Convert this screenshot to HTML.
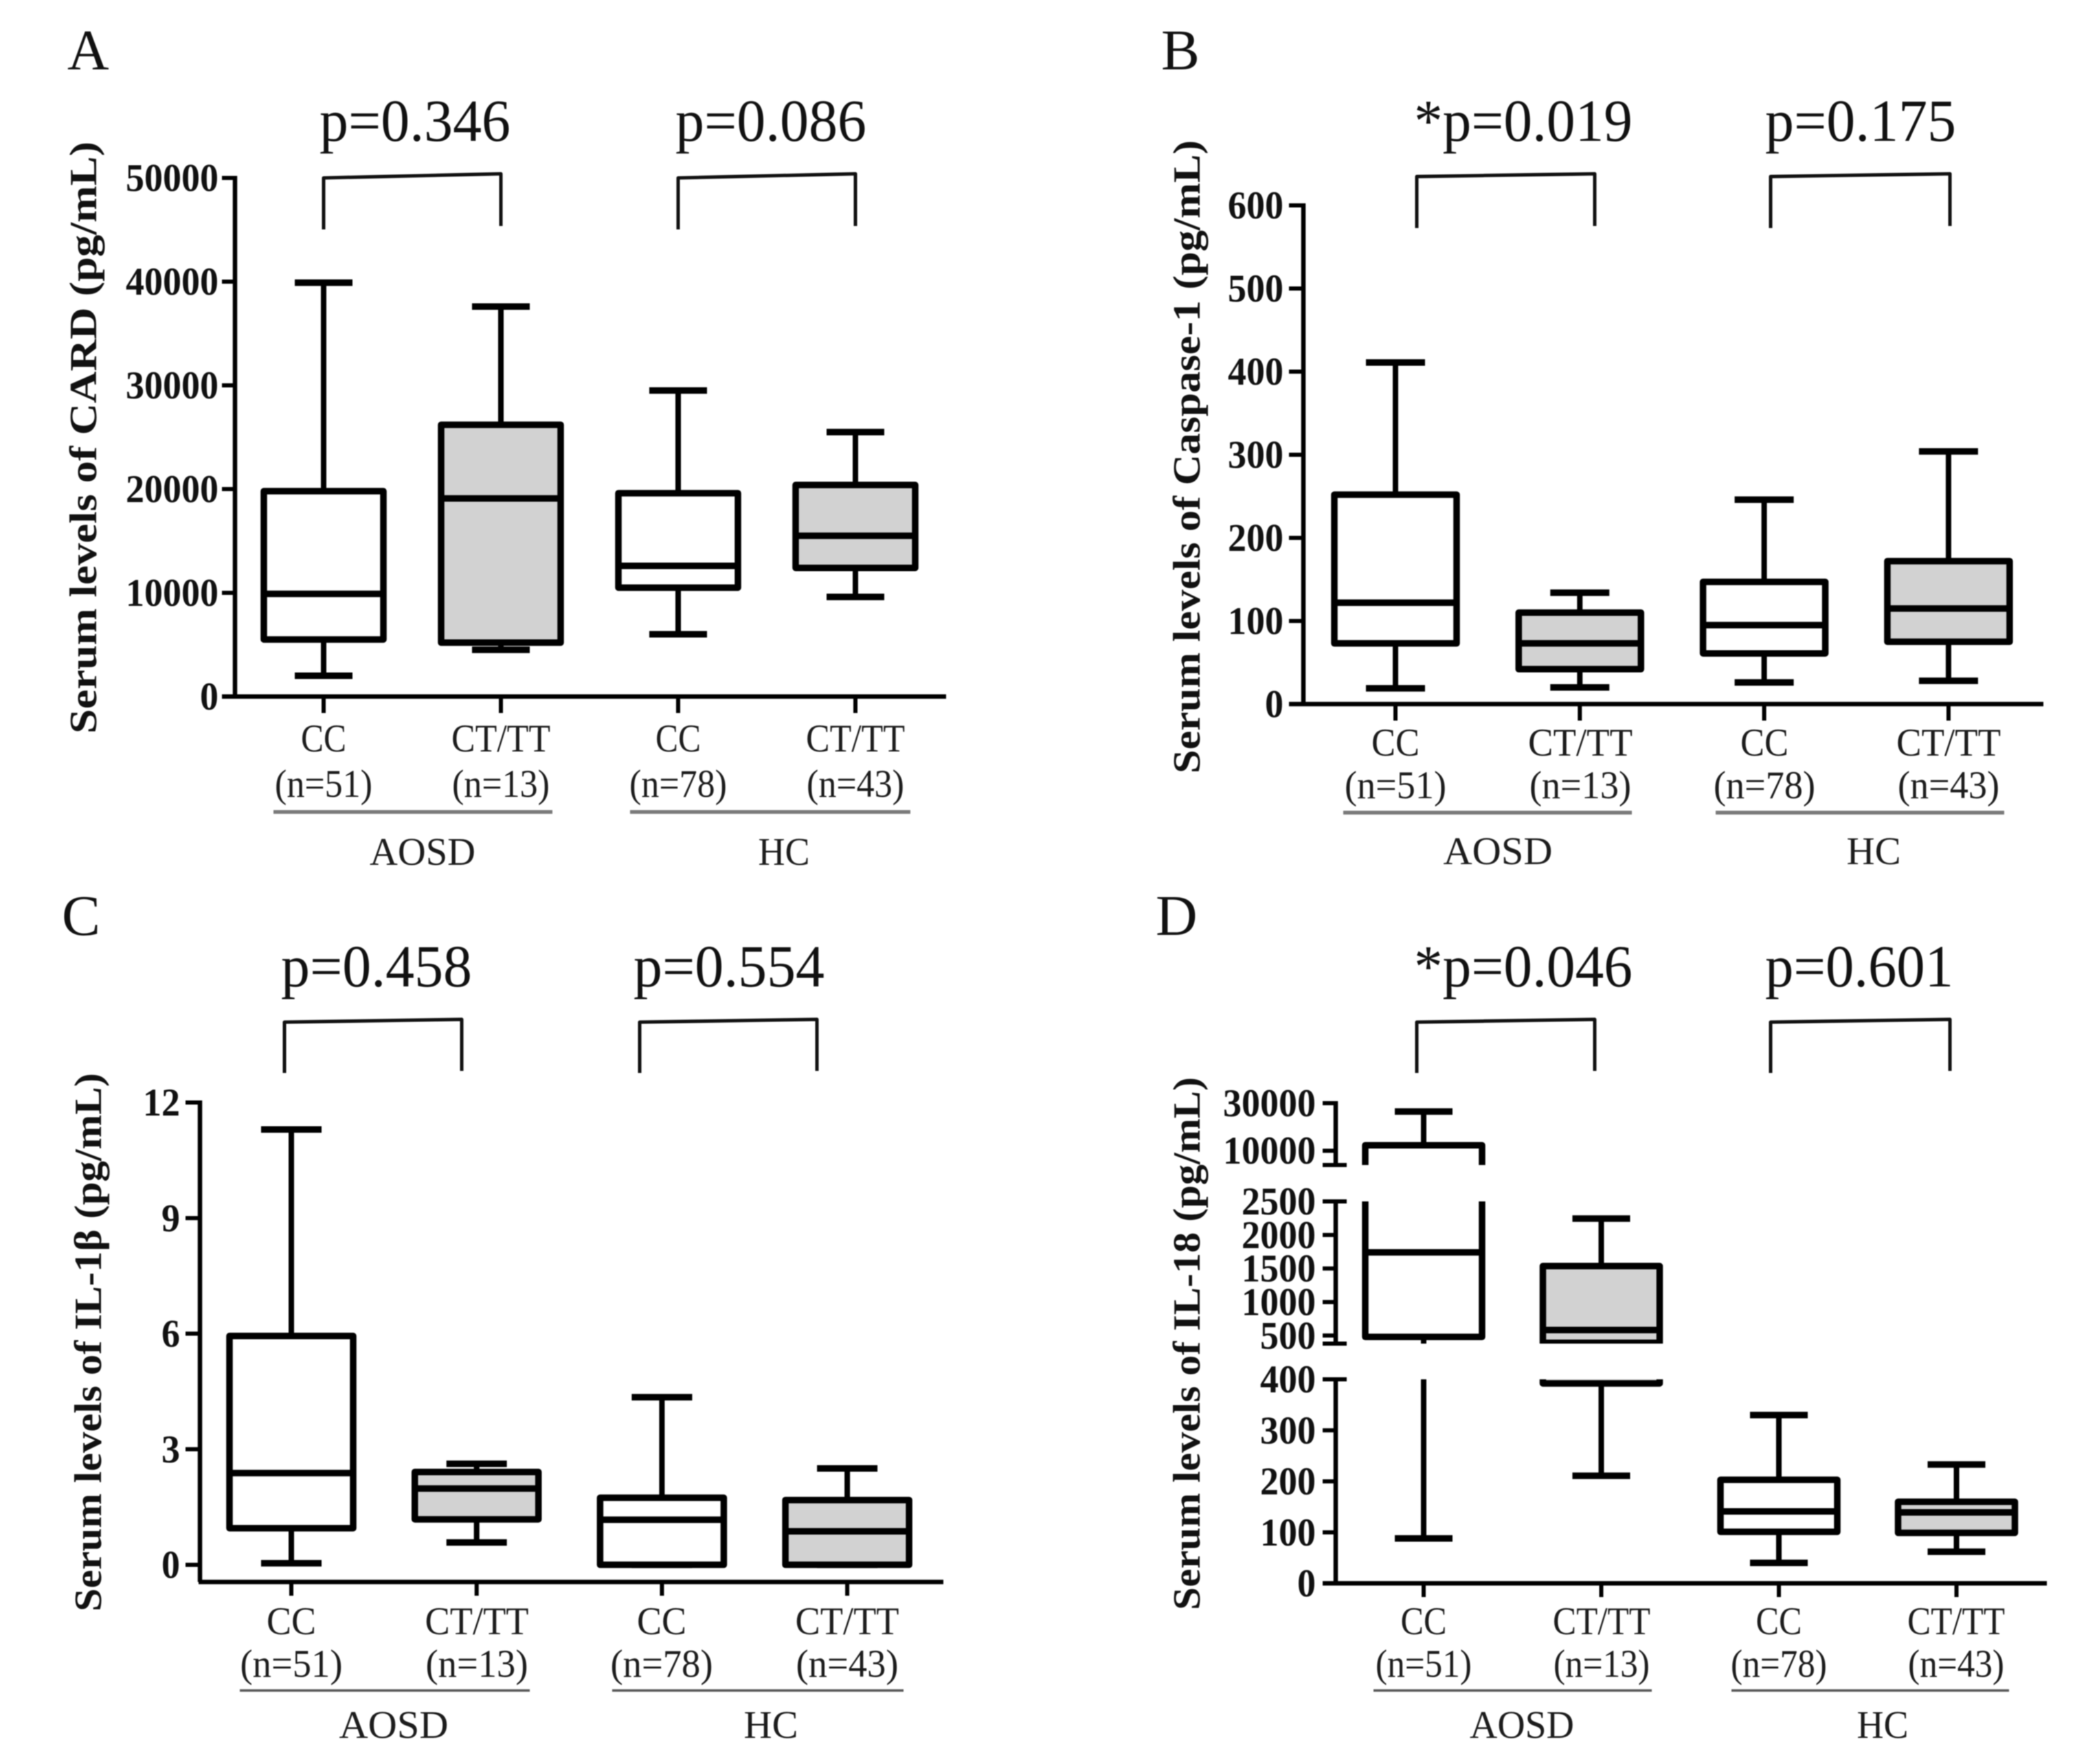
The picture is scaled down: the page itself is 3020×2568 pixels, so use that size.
<!DOCTYPE html>
<html lang="en">
<head>
<meta charset="utf-8">
<title>Serum levels of CARD, Caspase-1, IL-1β and IL-18 by genotype</title>
<style>
  html, body { margin: 0; padding: 0; background: #fff; }
  body { width: 3020px; height: 2568px; overflow: hidden; }
  svg { display: block; filter: blur(0.9px); }
  text { font-family: "Liberation Serif", serif; fill: #111; }
  .letter { font-size: 84px; }
  .pval { font-size: 87px; }
  .cat { font-size: 57px; text-anchor: middle; fill: #1c1c1c; }
  .group { font-size: 57px; text-anchor: middle; fill: #1c1c1c; }
  .ytitle { font-size: 56px; font-weight: bold; }
  .tick { font-size: 57px; font-weight: bold; text-anchor: end; }
  .bracket { fill: none; stroke: #111; stroke-width: 5; stroke-linejoin: round; }
  .underline { stroke: #7a7a7a; stroke-width: 5.5; }
</style>
</head>
<body>
<svg id="fig" xmlns="http://www.w3.org/2000/svg" width="3020" height="2568" viewBox="0 0 3020 2568">
  <rect width="3020" height="2568" fill="#fff"/>

  <!-- Panel A labels -->
  <g>
    <text class="letter" x="98" y="101">A</text>
    <text class="pval" x="465" y="205" textLength="278" lengthAdjust="spacingAndGlyphs">p=0.346</text>
    <text class="pval" x="983" y="205" textLength="278" lengthAdjust="spacingAndGlyphs">p=0.086</text>
    <path class="bracket" d="M471 334V259L729 253V329"/>
    <path class="bracket" d="M987 334V259L1245 253V329"/>
    <text class="ytitle" transform="translate(140,1068) rotate(-90)" textLength="862" lengthAdjust="spacingAndGlyphs">Serum levels of CARD (pg/mL)</text>
    <text class="cat" x="471" y="1094" textLength="66" lengthAdjust="spacingAndGlyphs">CC</text>
    <text class="cat" x="729" y="1094" textLength="144" lengthAdjust="spacingAndGlyphs">CT/TT</text>
    <text class="cat" x="987" y="1094" textLength="66" lengthAdjust="spacingAndGlyphs">CC</text>
    <text class="cat" x="1245" y="1094" textLength="144" lengthAdjust="spacingAndGlyphs">CT/TT</text>
    <text class="cat" x="471" y="1160" textLength="142" lengthAdjust="spacingAndGlyphs">(n=51)</text>
    <text class="cat" x="729" y="1160" textLength="142" lengthAdjust="spacingAndGlyphs">(n=13)</text>
    <text class="cat" x="987" y="1160" textLength="142" lengthAdjust="spacingAndGlyphs">(n=78)</text>
    <text class="cat" x="1245" y="1160" textLength="142" lengthAdjust="spacingAndGlyphs">(n=43)</text>
    <line class="underline" x1="398" x2="804" y1="1182" y2="1182"/>
    <line class="underline" x1="917" x2="1325" y1="1182" y2="1182"/>
    <text class="group" x="615" y="1259" textLength="154" lengthAdjust="spacingAndGlyphs">AOSD</text>
    <text class="group" x="1141" y="1259" textLength="75" lengthAdjust="spacingAndGlyphs">HC</text>
  </g>

  <!-- Panel B labels -->
  <g>
    <text class="letter" x="1690" y="101">B</text>
    <text class="pval" x="2058" y="205" textLength="318" lengthAdjust="spacingAndGlyphs">*p=0.019</text>
    <text class="pval" x="2569" y="205" textLength="278" lengthAdjust="spacingAndGlyphs">p=0.175</text>
    <path class="bracket" d="M2062 332V257L2321 253V329"/>
    <path class="bracket" d="M2577 332V257L2838 253V329"/>
    <text class="ytitle" transform="translate(1746,1126) rotate(-90)" textLength="922" lengthAdjust="spacingAndGlyphs">Serum levels of Caspase-1 (pg/mL)</text>
    <text class="cat" x="2031" y="1100" textLength="70" lengthAdjust="spacingAndGlyphs">CC</text>
    <text class="cat" x="2300" y="1100" textLength="152" lengthAdjust="spacingAndGlyphs">CT/TT</text>
    <text class="cat" x="2568" y="1100" textLength="70" lengthAdjust="spacingAndGlyphs">CC</text>
    <text class="cat" x="2836" y="1100" textLength="152" lengthAdjust="spacingAndGlyphs">CT/TT</text>
    <text class="cat" x="2031" y="1162" textLength="148" lengthAdjust="spacingAndGlyphs">(n=51)</text>
    <text class="cat" x="2300" y="1162" textLength="148" lengthAdjust="spacingAndGlyphs">(n=13)</text>
    <text class="cat" x="2568" y="1162" textLength="148" lengthAdjust="spacingAndGlyphs">(n=78)</text>
    <text class="cat" x="2836" y="1162" textLength="148" lengthAdjust="spacingAndGlyphs">(n=43)</text>
    <line class="underline" x1="1955" x2="2375" y1="1183" y2="1183"/>
    <line class="underline" x1="2497" x2="2917" y1="1183" y2="1183"/>
    <text class="group" x="2180" y="1258" textLength="159" lengthAdjust="spacingAndGlyphs">AOSD</text>
    <text class="group" x="2727" y="1258" textLength="79" lengthAdjust="spacingAndGlyphs">HC</text>
  </g>

  <!-- Panel C labels -->
  <g>
    <text class="letter" x="90" y="1361">C</text>
    <text class="pval" x="409" y="1436" textLength="278" lengthAdjust="spacingAndGlyphs">p=0.458</text>
    <text class="pval" x="922" y="1436" textLength="278" lengthAdjust="spacingAndGlyphs">p=0.554</text>
    <path class="bracket" d="M414 1562V1488L672 1484V1559"/>
    <path class="bracket" d="M931 1562V1488L1189 1484V1559"/>
    <text class="ytitle" transform="translate(147,2346) rotate(-90)" textLength="784" lengthAdjust="spacingAndGlyphs">Serum levels of IL-1β (pg/mL)</text>
    <text class="cat" x="424" y="2379" textLength="72" lengthAdjust="spacingAndGlyphs">CC</text>
    <text class="cat" x="694" y="2379" textLength="151" lengthAdjust="spacingAndGlyphs">CT/TT</text>
    <text class="cat" x="963" y="2379" textLength="72" lengthAdjust="spacingAndGlyphs">CC</text>
    <text class="cat" x="1233" y="2379" textLength="151" lengthAdjust="spacingAndGlyphs">CT/TT</text>
    <text class="cat" x="424" y="2441" textLength="149" lengthAdjust="spacingAndGlyphs">(n=51)</text>
    <text class="cat" x="694" y="2441" textLength="149" lengthAdjust="spacingAndGlyphs">(n=13)</text>
    <text class="cat" x="963" y="2441" textLength="149" lengthAdjust="spacingAndGlyphs">(n=78)</text>
    <text class="cat" x="1233" y="2441" textLength="149" lengthAdjust="spacingAndGlyphs">(n=43)</text>
    <line class="underline" style="stroke-width:3.5;stroke:#555" x1="349" x2="771" y1="2461" y2="2461"/>
    <line class="underline" style="stroke-width:3.5;stroke:#555" x1="891" x2="1315" y1="2461" y2="2461"/>
    <text class="group" x="573" y="2530" textLength="159" lengthAdjust="spacingAndGlyphs">AOSD</text>
    <text class="group" x="1122" y="2530" textLength="79" lengthAdjust="spacingAndGlyphs">HC</text>
  </g>

  <!-- Panel D labels -->
  <g>
    <text class="letter" x="1682" y="1361">D</text>
    <text class="pval" x="2058" y="1436" textLength="318" lengthAdjust="spacingAndGlyphs">*p=0.046</text>
    <text class="pval" x="2569" y="1436" textLength="274" lengthAdjust="spacingAndGlyphs">p=0.601</text>
    <path class="bracket" d="M2062 1562V1488L2321 1484V1559"/>
    <path class="bracket" d="M2577 1562V1488L2838 1484V1559"/>
    <text class="ytitle" transform="translate(1746,2344) rotate(-90)" textLength="776" lengthAdjust="spacingAndGlyphs">Serum levels of IL-18 (pg/mL)</text>
    <text class="cat" x="2072" y="2379" textLength="67" lengthAdjust="spacingAndGlyphs">CC</text>
    <text class="cat" x="2331" y="2379" textLength="142" lengthAdjust="spacingAndGlyphs">CT/TT</text>
    <text class="cat" x="2589" y="2379" textLength="67" lengthAdjust="spacingAndGlyphs">CC</text>
    <text class="cat" x="2847" y="2379" textLength="142" lengthAdjust="spacingAndGlyphs">CT/TT</text>
    <text class="cat" x="2072" y="2441" textLength="140" lengthAdjust="spacingAndGlyphs">(n=51)</text>
    <text class="cat" x="2331" y="2441" textLength="140" lengthAdjust="spacingAndGlyphs">(n=13)</text>
    <text class="cat" x="2589" y="2441" textLength="140" lengthAdjust="spacingAndGlyphs">(n=78)</text>
    <text class="cat" x="2847" y="2441" textLength="140" lengthAdjust="spacingAndGlyphs">(n=43)</text>
    <line class="underline" style="stroke-width:3.5;stroke:#555" x1="1999" x2="2404" y1="2461" y2="2461"/>
    <line class="underline" style="stroke-width:3.5;stroke:#555" x1="2520" x2="2924" y1="2461" y2="2461"/>
    <text class="group" x="2215" y="2530" textLength="152" lengthAdjust="spacingAndGlyphs">AOSD</text>
    <text class="group" x="2740" y="2530" textLength="75" lengthAdjust="spacingAndGlyphs">HC</text>
  </g>

  <defs id="clips"></defs>
  <g id="marks"></g>
</svg>

<script>
// ---- Data: categories and five-number summaries ----
const categories = ['aosd-cc', 'aosd-ct-tt', 'hc-cc', 'hc-ct-tt'];
const boxFills = ['#ffffff', '#d2d2d2', '#ffffff', '#d2d2d2'];

const cardHigh = [39900, 37600, 29500, 25500];
const cardQ3   = [19800, 26200, 19600, 20400];
const cardMed  = [9900, 19100, 12600, 15500];
const cardQ1   = [5500, 5200, 10500, 12400];
const cardLow  = [2000, 4500, 6000, 9600];
const cardTicks = [0, 10000, 20000, 30000, 40000, 50000];

const caspHigh = [411, 134, 246, 304];
const caspQ3   = [252, 110, 147, 172];
const caspMed  = [122, 73, 95, 115];
const caspQ1   = [73, 42, 61, 75];
const caspLow  = [19, 20, 26, 28];
const caspTicks = [0, 100, 200, 300, 400, 500, 600];

const il1High = [11.3, 2.62, 4.35, 2.5];
const il1Q3   = [5.94, 2.41, 1.74, 1.68];
const il1Med  = [2.38, 1.98, 1.17, 0.87];
const il1Q1   = [0.95, 1.18, 0, 0];
const il1Low  = [0.04, 0.58, 0, 0];
const il1Ticks = [0, 3, 6, 9, 12];

const il18High = [26500, 2244, 330, 233];
const il18Q3   = [12300, 1536, 203, 160];
const il18Med  = [1741, 582, 141, 139];
const il18Q1   = [480, 392, 101, 99];
const il18Low  = [88, 211, 40, 62];
const il18TicksTop = [10000, 30000];
const il18TicksMid = [500, 1000, 1500, 2000, 2500];
const il18TicksBottom = [0, 100, 200, 300, 400];
const il18DomainTop = [4000, 30000];
const il18DomainMid = [380, 2500];
const il18DomainBottom = [0, 400];

// ---- Drawing ----
const NS = 'http://www.w3.org/2000/svg';
const marks = document.getElementById('marks');
const clips = document.getElementById('clips');

function make(tag, parent, attrs) {
  const el = document.createElementNS(NS, tag);
  for (const k in attrs) el.setAttribute(k, attrs[k]);
  parent.appendChild(el);
  return el;
}
function linear(domain, range) {
  return v => range[0] + (v - domain[0]) * (range[1] - range[0]) / (domain[1] - domain[0]);
}

function drawMarks(parent, key, x, y, high, q3, med, q1, low, L) {
  categories.forEach((cat, i) => {
    const cx = x(i);
    const g = make('g', parent, {});
    
    

    const whisker = make('line', g, { x1: cx, x2: cx, y1: y(high[i]), y2: y(low[i]), stroke: '#000', 'stroke-width': 8 });
    
    

    const capHigh = make('line', g, { x1: cx - L.cap, x2: cx + L.cap, y1: y(high[i]), y2: y(high[i]), stroke: '#000', 'stroke-width': 9.5 });
    
    

    const capLow = make('line', g, { x1: cx - L.cap, x2: cx + L.cap, y1: y(low[i]), y2: y(low[i]), stroke: '#000', 'stroke-width': 9.5 });
    
    

    const box = make('rect', g, {
      x: cx - L.half, width: L.half * 2, y: y(q3[i]), height: y(q1[i]) - y(q3[i]),
      fill: boxFills[i], stroke: '#000', 'stroke-width': 9.5, 'stroke-linejoin': 'round'
    });
    
    

    const median = make('line', g, { x1: cx - L.half, x2: cx + L.half, y1: y(med[i]), y2: y(med[i]), stroke: '#000', 'stroke-width': 9.5 });
    
    
  });
}

function drawTicks(parent, key, L, y, ticks) {
  ticks.forEach(t => {
    const tick = make('line', parent, { x1: L.tickLeft, x2: L.axisX, y1: y(t), y2: y(t), stroke: '#000', 'stroke-width': 6 });
    
    

    const label = make('text', parent, { class: 'tick', x: L.labelRight, y: y(t) + 19, textLength: String(t).length * 27, lengthAdjust: 'spacingAndGlyphs' });
    label.textContent = String(t);
    
    
  });
}

function drawSimplePanel(key, L, ticks, high, q3, med, q1, low) {
  const y = linear([ticks[0], ticks[ticks.length - 1]], L.yRange);
  const x = i => L.firstX + i * L.stepX;
  const g = make('g', marks, {});
  
  

  const yAxis = make('line', g, { x1: L.axisX, x2: L.axisX, y1: L.yRange[1] - 3, y2: L.xAxisY, stroke: '#000', 'stroke-width': 6.5 });
  
  

  const xAxis = make('line', g, { x1: L.xAxisStart, x2: L.xAxisEnd, y1: L.xAxisY, y2: L.xAxisY, stroke: '#000', 'stroke-width': 6.5 });
  
  

  categories.forEach((cat, i) => {
    const xt = make('line', g, { x1: x(i), x2: x(i), y1: L.xAxisY, y2: L.xAxisY + L.xTickLen, stroke: '#000', 'stroke-width': 6 });
    
    
  });

  drawTicks(g, key, L, y, ticks);
  drawMarks(g, key, x, y, high, q3, med, q1, low, L);
}

function drawBrokenPanel(key, L, high, q3, med, q1, low) {
  const x = i => L.firstX + i * L.stepX;
  const g = make('g', marks, {});
  
  

  const xAxis = make('line', g, { x1: L.xAxisStart, x2: L.xAxisEnd, y1: L.xAxisY, y2: L.xAxisY, stroke: '#000', 'stroke-width': 6.5 });
  
  

  categories.forEach((cat, i) => {
    const xt = make('line', g, { x1: x(i), x2: x(i), y1: L.xAxisY, y2: L.xAxisY + L.xTickLen, stroke: '#000', 'stroke-width': 6 });
    
    
  });

  L.segments.forEach((seg, s) => {
    const y = linear(seg.domain, seg.range);
    const top = y(seg.domain[1]);
    const bottom = y(seg.domain[0]);
    const segGroup = make('g', g, {});
    
    

    const axis = make('line', segGroup, { x1: L.axisX, x2: L.axisX, y1: top - 3, y2: bottom, stroke: '#000', 'stroke-width': 6.5 });
    
    

    drawTicks(segGroup, key, L, y, seg.ticks);

    // End caps of each axis segment extend across the axis line.
    [seg.domain[0], seg.domain[1]].forEach((v, e) => {
      if (seg.name === 'bottom' && e === 0) return;
      if (seg.name === 'top' && e === 1) return;
      const endCap = make('line', segGroup, { x1: L.tickLeft, x2: L.tickRight, y1: y(v), y2: y(v), stroke: '#000', 'stroke-width': 6 });
      
      
    });

    const clip = make('clipPath', clips, { id: key + '-clip-' + s });
    make('rect', clip, { x: L.xAxisStart, y: top, width: L.xAxisEnd - L.xAxisStart, height: bottom - top });
    const clipped = make('g', segGroup, { 'clip-path': 'url(#' + key + '-clip-' + s + ')' });
    drawMarks(clipped, key + '-' + seg.name, x, y, high, q3, med, q1, low, L);
  });
}

drawSimplePanel('card', {
  axisX: 342, tickLeft: 323, labelRight: 318, yRange: [1014, 259], xAxisY: 1014,
  xAxisStart: 323, xAxisEnd: 1377, xTickLen: 24, firstX: 471, stepX: 258, half: 87, cap: 42
}, cardTicks, cardHigh, cardQ3, cardMed, cardQ1, cardLow);

drawSimplePanel('caspase', {
  axisX: 1897, tickLeft: 1876, labelRight: 1868, yRange: [1025, 299], xAxisY: 1025,
  xAxisStart: 1876, xAxisEnd: 2974, xTickLen: 24, firstX: 2031, stepX: 268.3, half: 89, cap: 43
}, caspTicks, caspHigh, caspQ3, caspMed, caspQ1, caspLow);

drawSimplePanel('il1b', {
  axisX: 291, tickLeft: 270, labelRight: 262, yRange: [2278, 1605], xAxisY: 2303,
  xAxisStart: 289, xAxisEnd: 1373, xTickLen: 20, firstX: 424, stepX: 269.7, half: 90, cap: 44
}, il1Ticks, il1High, il1Q3, il1Med, il1Q1, il1Low);

drawBrokenPanel('il18', {
  axisX: 1944, tickLeft: 1925, tickRight: 1960, labelRight: 1915, xAxisY: 2305,
  xAxisStart: 1925, xAxisEnd: 2979, xTickLen: 20, firstX: 2072, stepX: 258.5, half: 85, cap: 42,
  segments: [
    { name: 'top', domain: il18DomainTop, range: [1696, 1606], ticks: il18TicksTop },
    { name: 'mid', domain: il18DomainMid, range: [1956, 1749], ticks: il18TicksMid },
    { name: 'bottom', domain: il18DomainBottom, range: [2305, 2008], ticks: il18TicksBottom }
  ]
}, il18High, il18Q3, il18Med, il18Q1, il18Low);
</script>
</body>
</html>
